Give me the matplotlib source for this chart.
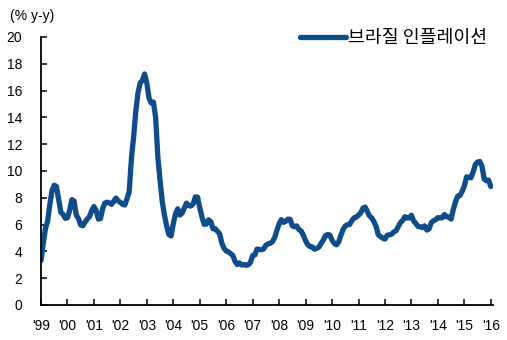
import matplotlib
matplotlib.use("Agg")
import matplotlib.pyplot as plt
import numpy as np

# Monthly y-y inflation (starts mid-1999)
inflation = [
    3.32, 4.57, 5.69, 6.25, 7.48, 8.55, 8.94,
    8.85, 7.86, 6.92, 6.77, 6.47, 6.51, 7.06, 7.86, 7.77, 6.71, 6.45, 5.97,
    5.92, 6.19, 6.42, 6.59, 7.04, 7.35, 7.06, 6.41, 6.46, 7.21, 7.61, 7.67,
    7.62, 7.51, 7.75, 7.98, 7.77, 7.66, 7.51, 7.46, 7.93, 8.45, 10.93, 12.53,
    14.47, 15.85, 16.57, 16.77, 17.24, 16.57, 15.43, 15.07, 15.14, 13.98, 11.02, 9.30,
    7.71, 6.69, 5.89, 5.26, 5.15, 6.06, 6.81, 7.18, 6.71, 6.86, 7.24, 7.60,
    7.41, 7.39, 7.54, 8.07, 8.05, 7.27, 6.57, 6.02, 6.04, 6.36, 6.22, 5.69,
    5.70, 5.51, 5.32, 4.63, 4.23, 4.03, 3.97, 3.84, 3.70, 3.26, 3.02, 3.14,
    2.99, 3.02, 2.96, 3.00, 3.18, 3.69, 3.74, 4.18, 4.15, 4.12, 4.19, 4.46,
    4.56, 4.61, 4.73, 5.04, 5.58, 6.06, 6.37, 6.17, 6.25, 6.41, 6.39, 5.90,
    5.84, 5.90, 5.61, 5.53, 5.20, 4.80, 4.50, 4.36, 4.34, 4.17, 4.22, 4.31,
    4.59, 4.83, 5.17, 5.26, 5.22, 4.84, 4.60, 4.49, 4.70, 5.20, 5.63, 5.91,
    5.99, 6.01, 6.30, 6.51, 6.55, 6.71, 6.87, 7.23, 7.31, 6.97, 6.64, 6.50,
    6.22, 5.85, 5.24, 5.10, 4.99, 4.92, 5.20, 5.24, 5.28, 5.45, 5.53, 5.84,
    6.15, 6.31, 6.59, 6.49, 6.50, 6.70, 6.27, 6.09, 5.86, 5.84, 5.77, 5.91,
    5.59, 5.68, 6.15, 6.28, 6.37, 6.52, 6.50, 6.51, 6.75, 6.59, 6.56, 6.41,
    7.14, 7.70, 8.13, 8.17, 8.47, 8.89, 9.56, 9.53, 9.49, 9.93, 10.48, 10.67,
    10.71, 10.36, 9.39, 9.28, 9.32, 8.84,
]
tick_labels = ["'99", "'00", "'01", "'02", "'03", "'04", "'05", "'06", "'07",
               "'08", "'09", "'10", "'11", "'12", "'13", "'14", "'15", "'16"]
y_ticks = list(range(0, 21, 2))
series_name = "브라질 인플레이션"
unit_label = "(% y-y)"

plt.rcParams['font.family'] = ['Liberation Sans', 'DejaVu Sans']

fig = plt.figure(figsize=(5.07, 3.40), dpi=100)
ax = fig.add_axes([41/507, 1-305/340, (493-41)/507, (305-37)/340])

x = np.arange(len(inflation))
line, = ax.plot(x, inflation, color='#0F4C8A', lw=3.8, solid_capstyle='round',
                solid_joinstyle='round', label=series_name)

ax.set_xlim(0, 205)
ax.set_ylim(0, 20)
ax.set_yticks(y_ticks)
ax.set_yticklabels([str(v) for v in y_ticks])
ax.set_xticks(np.arange(len(tick_labels)) * 12)
ax.set_xticklabels(tick_labels)

for s in ['top', 'right']:
    ax.spines[s].set_visible(False)
for s in ['left', 'bottom']:
    ax.spines[s].set_linewidth(1.3)
    ax.spines[s].set_color('black')

ax.tick_params(axis='y', direction='in', length=4, width=1.1, pad=13.5,
               labelsize=10, colors='black')
ax.tick_params(axis='x', direction='in', length=4, width=1.1, pad=10,
               labelsize=10, colors='black')

fig.text(10/507, 1-16/340, unit_label, fontsize=10, va='center', ha='left')

leg = ax.legend(handles=[line], loc='center left',
                bbox_to_anchor=((300-41)/452, (305-38)/268),
                frameon=False, handlelength=2.5, handletextpad=0.12,
                borderaxespad=0, borderpad=0,
                prop={'family': ['Noto Sans CJK KR', 'DejaVu Sans'], 'size': 13.2})

fig.savefig('out.png', dpi=100)
